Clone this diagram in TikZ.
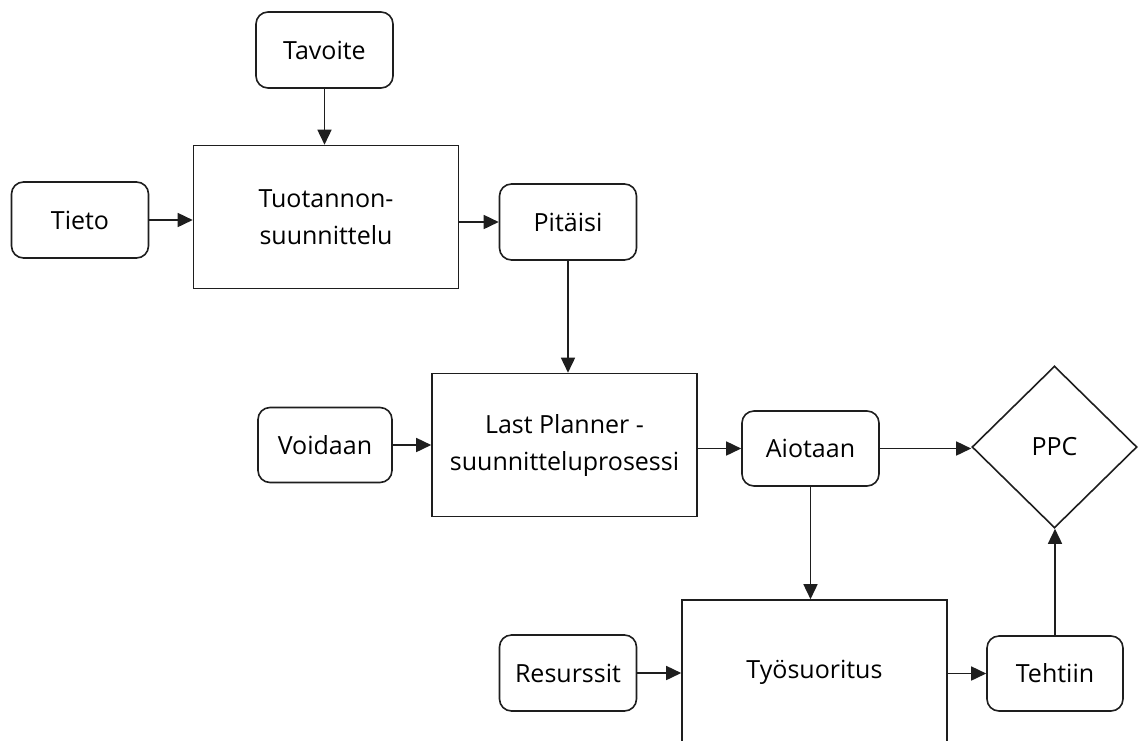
\documentclass[tikz,border=0pt]{standalone}
\usepackage{fontspec}
\setmainfont{Open Sans}
\usetikzlibrary{shapes.geometric,arrows.meta}
\definecolor{ink}{HTML}{1E1E1E}
\tikzset{
  every node/.style={font=\fontsize{25}{37}\selectfont, text=black},
  base/.style={draw=ink, line width=1.6pt, inner sep=0pt, align=center},
  rbox/.style={base, rounded corners=12pt, minimum width=137pt, minimum height=76pt},
  pbox/.style={base, minimum width=265pt, minimum height=143pt},
  dbox/.style={base, diamond, minimum width=165pt, minimum height=162pt},
  flow/.style={draw=ink, line width=1.6pt, -{Triangle[length=15pt,width=14pt]}}
}
\begin{document}
\begin{tikzpicture}[x=1pt,y=-1pt]
\path[use as bounding box, clip] (0,0) rectangle (1138,740);
\fill[white] (0,0) rectangle (1138,740);

\node[rbox] (tavoite) at (324.5,50) {Tavoite};
\node[pbox] (tuot) at (326,217) {Tuotannon-\\suunnittelu};
\node[rbox] (tieto) at (80,220) {Tieto};
\node[rbox] (pitaisi) at (568,222) {Pitäisi};
\node[pbox] (lp) at (564.5,445) {Last Planner -\\suunnitteluprosessi};
\node[rbox, minimum width=134pt, minimum height=75pt] (voidaan) at (325,445) {Voidaan};
\node[rbox, minimum height=75pt] (aiotaan) at (810.5,448.5) {Aiotaan};
\node[dbox] (ppc) at (1054.5,447) {PPC};
\node[pbox, minimum height=144pt] (tyo) at (814.5,672) {Työsuoritus};
\node[rbox, minimum width=136pt, minimum height=75pt] (tehtiin) at (1055,673.5) {Tehtiin};
\node[rbox] (resurssit) at (568,673) {Resurssit};

\draw[flow] (tavoite.south) -- (tavoite.south |- tuot.north);
\draw[flow] (tieto.east) -- (tieto.east -| tuot.west);
\draw[flow] (tuot.east |- pitaisi.west) -- (pitaisi.west);
\draw[flow] (pitaisi.south) -- (pitaisi.south |- lp.north);
\draw[flow] (voidaan.east) -- (voidaan.east -| lp.west);
\draw[flow] (lp.east |- aiotaan.west) -- (aiotaan.west);
\draw[flow] (aiotaan.east) -- (aiotaan.east -| ppc.west);
\draw[flow] (aiotaan.south) -- (aiotaan.south |- tyo.north);
\draw[flow] (resurssit.east) -- (resurssit.east -| tyo.west);
\draw[flow] (tyo.east |- tehtiin.west) -- (tehtiin.west);
\draw[flow] (tehtiin.north) -- (tehtiin.north |- ppc.south);
\end{tikzpicture}
\end{document}
